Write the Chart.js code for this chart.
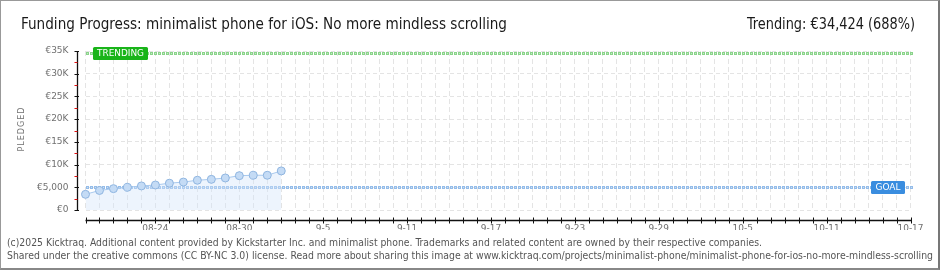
<!DOCTYPE html>
<html><head><meta charset="utf-8">
<script src="https://cdn.jsdelivr.net/npm/chart.js"></script>
<style>
html,body{margin:0;padding:0;background:#fff;}
#wrap{position:relative;width:940px;height:270px;overflow:hidden;background:#fff;}
#c{position:absolute;left:0;top:0;}
.frame{position:absolute;left:0;top:0;width:940px;height:270px;box-sizing:border-box;border-left:1px solid #999;border-top:1px solid #999;border-right:2px solid #777;border-bottom:2px solid #888;pointer-events:none;}
.t{position:absolute;white-space:nowrap;transform-origin:0 0;line-height:1;}
#title,#trend{font-family:"Liberation Sans Narrow","DejaVu Sans Condensed",sans-serif;font-size:15px;color:#1a1a1a;top:17px;}
.foot{font-family:"Liberation Sans Narrow","DejaVu Sans Condensed",sans-serif;font-size:10px;color:#555;left:7px;}
#pledged{font-family:"DejaVu Sans",sans-serif;font-size:8px;color:#777;letter-spacing:1px;width:60px;text-align:center;left:-8.5px;top:125px;transform-origin:50% 50%;transform:rotate(-90deg);}
</style></head><body>
<div id="wrap">
<canvas id="c" width="940" height="270"></canvas>
<div class="t" id="title" style="left:21px">Funding Progress: minimalist phone for iOS: No more mindless scrolling</div>
<div class="t" id="trend" style="left:747px">Trending: €34,424 (688%)</div>
<div class="t" id="pledged">PLEDGED</div>
<div class="t foot" id="f1" style="top:238px">(c)2025 Kicktraq. Additional content provided by Kickstarter Inc. and minimalist phone. Trademarks and related content are owned by their respective companies.</div>
<div class="t foot" id="f2" style="top:251px">Shared under the creative commons (CC BY-NC 3.0) license. Read more about sharing this image at www.kicktraq.com/projects/minimalist-phone/minimalist-phone-for-ios-no-more-mindless-scrolling</div>
<div class="frame"></div>
</div>
<script>
// ---- data ----
const categories = [
 '08-19','08-20','08-21','08-22','08-23','08-24','08-25','08-26','08-27','08-28','08-29','08-30','08-31',
 '9-1','9-2','9-3','9-4','9-5','9-6','9-7','9-8','9-9','9-10','9-11','9-12','9-13','9-14','9-15','9-16','9-17',
 '9-18','9-19','9-20','9-21','9-22','9-23','9-24','9-25','9-26','9-27','9-28','9-29','9-30',
 '10-1','10-2','10-3','10-4','10-5','10-6','10-7','10-8','10-9','10-10','10-11','10-12','10-13','10-14','10-15','10-16','10-17'
];
const shownTicks = ['08-24','08-30','9-5','9-11','9-17','9-23','9-29','10-5','10-11','10-17'];
const pledged = [3450,4300,4700,5000,5300,5500,5900,6150,6550,6750,7050,7550,7650,7650,8600];
const yTickLabels = ['€0','€5,000','€10K','€15K','€20K','€25K','€30K','€35K'];
const goal = 5000;
const trending = 34424;

// ---- fit text widths ----
function fit(id, w){const e=document.getElementById(id);const r=e.getBoundingClientRect().width;e.style.transform='scaleX('+(w/r)+')';}
fit('title',486); fit('trend',168); fit('f1',755); fit('f2',926);

function dotted(ctx,x1,x2,y,fill,edge){
  ctx.save();
  for(let x=x1;x<=x2-2;x+=4){
    ctx.fillStyle=edge;ctx.fillRect(Math.round(x),Math.round(y-1.5),3,3);
    ctx.fillStyle=fill;ctx.fillRect(Math.round(x)+1,Math.round(y-1.5)+1,1,1);
  }
  ctx.restore();
}
function tag(ctx,x,y,w,h,color,text){
  ctx.save();ctx.fillStyle=color;
  ctx.beginPath();ctx.roundRect(x,y,w,h,1.5);ctx.fill();
  ctx.fillStyle='#fff';ctx.font='9px "DejaVu Sans"';ctx.textBaseline='middle';ctx.textAlign='center';
  ctx.fillText(text,x+w/2,y+h/2+0.5,w-8);ctx.restore();
}
const deco={
  id:'deco',
  beforeDatasetsDraw(chart){
    const {ctx,chartArea:a,scales:{y}}=chart;
    dotted(ctx,a.left,a.right+1,y.getPixelForValue(goal),'#c8def5','#94bce9');
    dotted(ctx,a.left,a.right+1,y.getPixelForValue(trending),'#c2ebc2','#8ad38a');
  },
  afterDraw(chart){
    const {ctx,chartArea:a,scales:{x,y}}=chart;
    ctx.save();
    // y axis
    const ax=Math.round(a.left-9)+0.5;
    ctx.strokeStyle='#111';ctx.lineWidth=1.3;
    ctx.beginPath();ctx.moveTo(ax,y.getPixelForValue(35000));ctx.lineTo(ax,y.getPixelForValue(0)+0.5);ctx.stroke();
    ctx.lineWidth=1;
    y.ticks.forEach(t=>{const py=Math.round(y.getPixelForValue(t.value))+0.5;ctx.strokeStyle='#111';ctx.beginPath();ctx.moveTo(ax-3,py);ctx.lineTo(ax+1.5,py);ctx.stroke();});
    ctx.strokeStyle='#e01010';
    y.ticks.slice(0,-1).forEach(t=>{const py=Math.round(y.getPixelForValue(t.value+2500))+0.5;ctx.beginPath();ctx.moveTo(ax-3,py);ctx.lineTo(ax,py);ctx.stroke();});
    // x axis
    const ay=Math.round(a.bottom+10)+0.5;
    ctx.strokeStyle='#111';ctx.lineWidth=1.3;
    ctx.beginPath();ctx.moveTo(a.left,ay);ctx.lineTo(a.right+0.5,ay);ctx.stroke();
    ctx.lineWidth=1;
    categories.forEach((c,i)=>{const px=Math.round(x.getPixelForValue(i))+0.5;ctx.beginPath();ctx.moveTo(px,ay-3);ctx.lineTo(px,ay+3);ctx.stroke();});
    ctx.restore();
    // tags
    const ty=y.getPixelForValue(trending), gy=y.getPixelForValue(goal);
    tag(ctx,Math.round(a.left+7.5),Math.round(ty-6.5),55,13,'#19b419','TRENDING');
    tag(ctx,Math.round(a.right-39.5),Math.round(gy-6.5),34,13,'#3a8ddf','GOAL');
  }
};

new Chart(document.getElementById('c'),{
  type:'line',
  data:{labels:categories,datasets:[{
    data:pledged,borderColor:'#a8c9ee',borderWidth:1,fill:'origin',
    backgroundColor:'rgba(210,228,250,0.4)',pointRadius:4,pointBackgroundColor:'#c4dbf5',
    pointBorderColor:'#8fb5e0',pointBorderWidth:1,tension:0
  }]},
  options:{
    responsive:false,animation:false,devicePixelRatio:1,
    layout:{padding:{left:0,right:29.5,top:51,bottom:40}},
    plugins:{legend:{display:false},tooltip:{enabled:false}},
    scales:{
      x:{type:'category',offset:false,
        afterFit:s=>{s.height=20;},
        grid:{color:'#e4e4e4',drawTicks:false},border:{display:false,dash:[5,3]},
        ticks:{autoSkip:false,maxRotation:0,padding:13,color:'#707070',font:{family:'DejaVu Sans',size:9},
          callback:function(v,i){const l=categories[i];return shownTicks.includes(l)?l:'';}}
      },
      y:{min:0,max:35000,
        afterFit:s=>{s.width=85.5;},
        grid:{color:'#e4e4e4',drawTicks:false},border:{display:false,dash:[4,3]},
        ticks:{stepSize:5000,padding:17,color:'#707070',font:{family:'DejaVu Sans',size:9},
          callback:function(v,i){return yTickLabels[i];}}
      }
    }
  },
  plugins:[deco]
});
</script>
</body></html>
